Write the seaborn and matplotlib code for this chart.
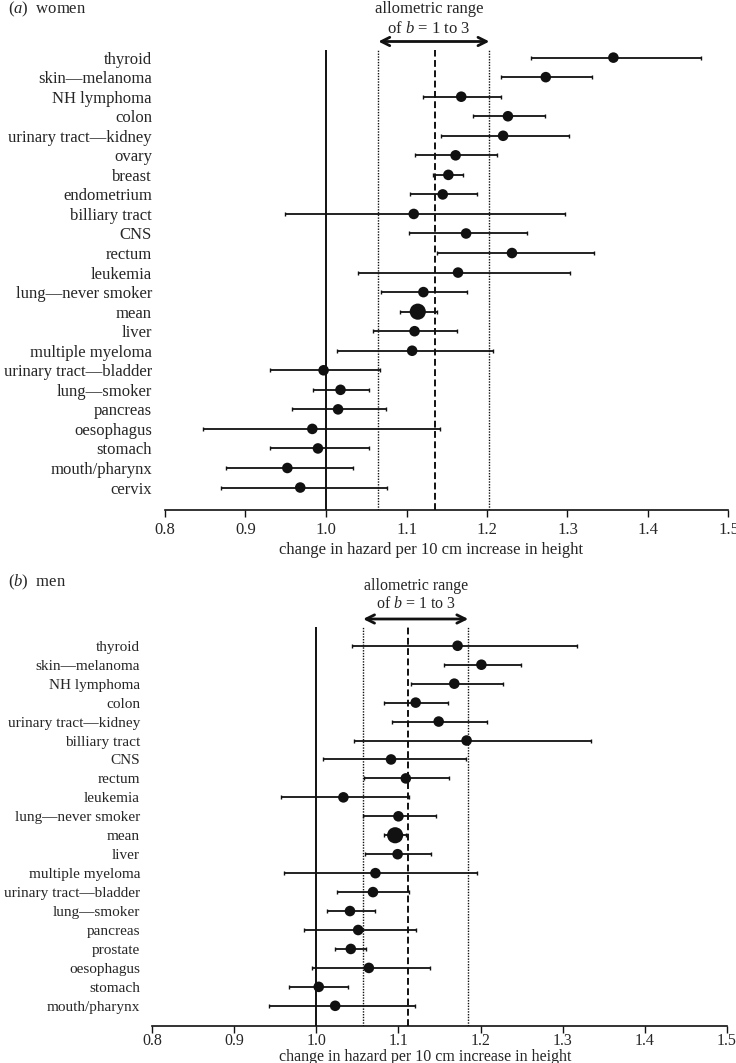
import numpy as np
import pandas as pd
import seaborn as sns
import matplotlib.pyplot as plt
from matplotlib.transforms import blended_transform_factory

# ---- data: hazard ratio per 10 cm height, with 95% CI ----
women_labels = ["thyroid", "skin\u2014melanoma", "NH lymphoma", "colon",
                "urinary tract\u2014kidney", "ovary", "breast", "endometrium",
                "billiary tract", "CNS", "rectum", "leukemia",
                "lung\u2014never smoker", "mean", "liver", "multiple myeloma",
                "urinary tract\u2014bladder", "lung\u2014smoker", "pancreas",
                "oesophagus", "stomach", "mouth/pharynx", "cervix"]
women_hr = [1.357, 1.273, 1.168, 1.226, 1.220, 1.161, 1.152, 1.145, 1.109, 1.174,
            1.231, 1.164, 1.121, 1.114, 1.110, 1.107, 0.997, 1.018, 1.015, 0.983,
            0.990, 0.952, 0.968]
women_lo = [1.255, 1.218, 1.120, 1.182, 1.143, 1.110, 1.133, 1.104, 0.949, 1.103,
            1.138, 1.040, 1.068, 1.092, 1.059, 1.014, 0.931, 0.984, 0.958, 0.847,
            0.931, 0.876, 0.870]
women_hi = [1.466, 1.330, 1.218, 1.272, 1.302, 1.213, 1.170, 1.188, 1.297, 1.250,
            1.333, 1.303, 1.175, 1.138, 1.163, 1.207, 1.067, 1.054, 1.075, 1.141,
            1.054, 1.034, 1.076]
women_ref = [1.065, 1.135, 1.203]   # b=1, mean, b=3

men_labels = ["thyroid", "skin\u2014melanoma", "NH lymphoma", "colon",
              "urinary tract\u2014kidney", "billiary tract", "CNS", "rectum",
              "leukemia", "lung\u2014never smoker", "mean", "liver",
              "multiple myeloma", "urinary tract\u2014bladder", "lung\u2014smoker",
              "pancreas", "prostate", "oesophagus", "stomach", "mouth/pharynx"]
men_hr = [1.172, 1.201, 1.168, 1.121, 1.149, 1.183, 1.091, 1.109, 1.033, 1.100,
          1.096, 1.099, 1.072, 1.069, 1.041, 1.051, 1.042, 1.064, 1.003, 1.023]
men_lo = [1.043, 1.155, 1.115, 1.082, 1.092, 1.046, 1.008, 1.058, 0.957, 1.057,
          1.083, 1.059, 0.961, 1.025, 1.013, 0.985, 1.023, 0.995, 0.967, 0.943]
men_hi = [1.318, 1.249, 1.227, 1.160, 1.208, 1.335, 1.182, 1.162, 1.113, 1.146,
          1.109, 1.140, 1.196, 1.113, 1.071, 1.121, 1.061, 1.139, 1.038, 1.120]
men_ref = [1.057, 1.112, 1.185]

xticks = [0.8, 0.9, 1.0, 1.1, 1.2, 1.3, 1.4, 1.5]

#%% style
sns.set_style("ticks")
plt.rcParams["font.family"] = ["Liberation Serif", "DejaVu Serif"]
plt.rcParams["mathtext.fontset"] = "custom"
plt.rcParams["mathtext.rm"] = "Liberation Serif"
plt.rcParams["mathtext.it"] = "Liberation Serif:italic"
INK = "#111111"

fig = plt.figure(figsize=(7.36, 10.63), dpi=100)
W, H = 736, 1063


def panel(box, labels, hr, lo, hi, ref, ylim, txt_x, txt_y, tick_pad, xlab_y,
          fs, lab_fs, ypad):
    ax = fig.add_axes(box)
    df = pd.DataFrame({"hr": hr, "pos": np.arange(len(labels)),
                       "is_mean": [l == "mean" for l in labels]})
    lo = np.array(lo)
    hi = np.array(hi)
    hrv = np.array(hr)
    ax.errorbar(hrv, df["pos"], xerr=[hrv - lo, hi - hrv], fmt="none",
                ecolor=INK, elinewidth=1.3, capsize=1.6, capthick=1.0, zorder=2)
    sns.scatterplot(data=df, x="hr", y="pos", size="is_mean",
                    sizes={False: 58, True: 135}, color=INK, linewidth=0,
                    legend=False, ax=ax, zorder=3)
    ax.axvline(1.0, color=INK, lw=1.4, zorder=1)
    ax.axvline(ref[0], color=INK, lw=1.0, ls=(0, (1, 1)), zorder=1)
    ax.axvline(ref[1], color=INK, lw=1.4, ls=(0, (3.5, 1.8)), zorder=1)
    ax.axvline(ref[2], color=INK, lw=1.0, ls=(0, (1, 1)), zorder=1)

    ax.set_xlim(0.8, 1.5)
    ax.set_ylim(*ylim)
    ax.set_xticks(xticks)
    ax.set_xticklabels([f"{t:.1f}" for t in xticks], fontsize=fs)
    ax.set_yticks(df["pos"])
    ax.set_yticklabels(labels, fontsize=lab_fs)
    ax.tick_params(axis="y", length=0, pad=ypad)
    ax.tick_params(axis="x", length=5, width=1, direction="out", pad=tick_pad,
                   color=INK)
    for s in ["left", "top", "right"]:
        ax.spines[s].set_visible(False)
    ax.spines["bottom"].set_linewidth(1.2)
    ax.spines["bottom"].set_color(INK)
    ax.set_ylabel("")
    ax.set_xlabel("change in hazard per 10 cm increase in height", fontsize=fs)
    ax.xaxis.set_label_coords(xlab_y[0], xlab_y[1])
    ax.xaxis.label.set_verticalalignment("center")

    # allometric range annotation above the axes
    tr = blended_transform_factory(ax.transData, fig.transFigure)
    ax.text(txt_x, 1 - txt_y[0] / H, "allometric range", transform=tr,
            ha="center", va="center", fontsize=fs)
    ax.text(txt_x, 1 - txt_y[1] / H, r"of $\it{b}$ = 1 to 3", transform=tr,
            ha="center", va="center", fontsize=fs)
    ax.annotate("", xy=(ref[0], 1 - txt_y[2] / H), xytext=(ref[2], 1 - txt_y[2] / H),
                xycoords=tr, textcoords=tr, annotation_clip=False,
                arrowprops=dict(arrowstyle="<->,head_length=0.6,head_width=0.3",
                                lw=2.0, color=INK, shrinkA=0, shrinkB=0))
    return ax


ax_a = panel([165 / W, 1 - 510 / H, (728.5 - 165) / W, (510 - 50) / H],
             women_labels, women_hr, women_lo, women_hi, women_ref,
             (23.15, -0.39), 1.128, (9, 29, 41.5), 4, (0.472, -39.5 / 460),
             12, 12, 9.4)
ax_b = panel([152 / W, 1 - 1025.7 / H, (727 - 152) / W, (1025.7 - 627) / H],
             men_labels, men_hr, men_lo, men_hi, men_ref,
             (20.05, -0.99), 1.122, (586, 604, 619), 0.5, (0.475, -31 / 398.7),
             11.5, 11.0, 8.6)

fig.text(8 / W, 1 - 9 / H, r"($\it{a}$)  women", ha="left", va="center", fontsize=12)
fig.text(8 / W, 1 - 582 / H, r"($\it{b}$)  men", ha="left", va="center", fontsize=12)

fig.savefig("out.png", dpi=100)
